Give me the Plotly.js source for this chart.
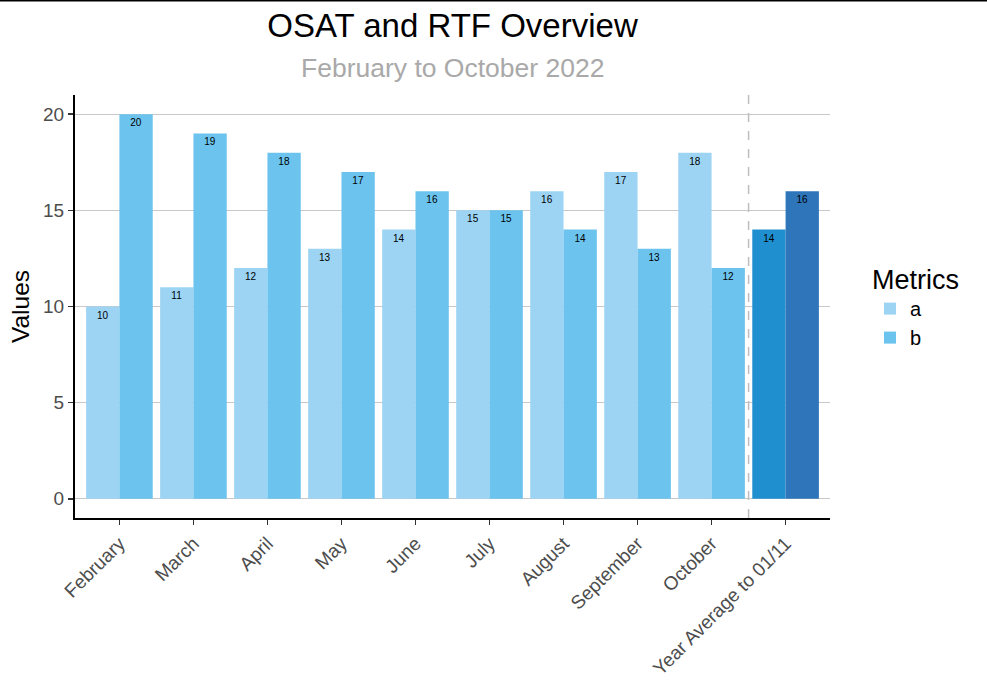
<!DOCTYPE html>
<html>
<head>
<meta charset="utf-8">
<script src="https://cdn.plot.ly/plotly-3.0.1.min.js"></script>
<style>html,body{margin:0;padding:0;background:#fff;}#chart{width:987px;height:696px;}</style>
</head>
<body>
<div id="chart"></div>
<script>
const categories = ["February","March","April","May","June","July","August","September","October","Year Average to 01/11"];
const seriesA = [10,11,12,13,14,15,16,17,18,14];
const seriesB = [20,19,18,17,16,15,14,13,12,16];
const colorsA = ["#9DD4F4","#9DD4F4","#9DD4F4","#9DD4F4","#9DD4F4","#9DD4F4","#9DD4F4","#9DD4F4","#9DD4F4","#1F8FD0"];
const colorsB = ["#6BC3EE","#6BC3EE","#6BC3EE","#6BC3EE","#6BC3EE","#6BC3EE","#6BC3EE","#6BC3EE","#6BC3EE","#2E75BA"];

const W = 987, H = 696;
const M = {l:75, r:157, t:95, b:178};
const pw = W - M.l - M.r, ph = H - M.t - M.b;
const font = "Liberation Sans, Arial, sans-serif";

const common = {
  type: "bar",
  x: categories,
  textposition: "inside",
  insidetextanchor: "end",
  textangle: 0,
  textfont: {family: font, size: 10, color: "#000000"},
  hoverinfo: "x+y+name",
  showlegend: true
};

const traces = [
  Object.assign({}, common, {name: "a", y: seriesA, text: seriesA.map(String), marker: {color: colorsA, line: {width: 0}}}),
  Object.assign({}, common, {name: "b", y: seriesB, text: seriesB.map(String), marker: {color: colorsB, line: {width: 0}}})
];

const layout = {
  width: W, height: H,
  margin: M,
  paper_bgcolor: "#ffffff",
  plot_bgcolor: "#ffffff",
  font: {family: font, color: "#000000"},
  barmode: "group",
  bargap: 0.1,
  bargroupgap: 0,
  uniformtext: {minsize: 10, mode: "show"},
  title: {
    text: "OSAT and RTF Overview",
    font: {family: font, size: 33, color: "#000000"},
    x: 0.5, xref: "paper", xanchor: "center",
    y: 1 - 25/H, yref: "container", yanchor: "middle"
  },
  annotations: [{
    text: "February to October 2022",
    xref: "paper", yref: "paper",
    x: 0.5, y: 1 + (M.t - 68)/ph,
    xanchor: "center", yanchor: "middle",
    showarrow: false,
    font: {family: font, size: 26.5, color: "#A9A9A9"}
  }],
  xaxis: {
    type: "category",
    range: [-0.6, 9.6],
    showgrid: false,
    showline: true, linecolor: "#000000", linewidth: 2,
    ticks: "outside", ticklen: 5, tickwidth: 1.5, tickcolor: "#333333",
    tickangle: -45,
    tickfont: {family: font, size: 19, color: "#4D4D4D"},
    zeroline: false,
    fixedrange: true
  },
  yaxis: {
    range: [-1, 21],
    tickvals: [0,5,10,15,20],
    showgrid: true, gridcolor: "#C8C8C8", gridwidth: 1,
    showline: true, linecolor: "#000000", linewidth: 2,
    ticks: "outside", ticklen: 5, tickwidth: 1.5, tickcolor: "#333333",
    tickfont: {family: font, size: 19, color: "#4D4D4D"},
    zeroline: false,
    title: {text: "Values", font: {family: font, size: 24.5, color: "#000000"}, standoff: 6},
    fixedrange: true
  },
  legend: {
    title: {text: "Metrics", font: {family: font, size: 27, color: "#000000"}},
    font: {family: font, size: 20, color: "#000000"},
    x: (870 - M.l)/pw, xanchor: "left",
    y: (H - M.b - 254)/ph, yanchor: "top",
    tracegroupgap: 0,
    bgcolor: "rgba(0,0,0,0)"
  },
  shapes: [
    {type: "line", xref: "x", yref: "paper", x0: 8.5, x1: 8.5, y0: 0, y1: 1,
     line: {color: "#BEBEBE", width: 1.5, dash: "dash"}},
    {type: "line", xref: "paper", yref: "paper",
     x0: -M.l/pw, x1: (W - M.l)/pw, y0: 1 + (M.t - 0.5)/ph, y1: 1 + (M.t - 0.5)/ph,
     line: {color: "#000000", width: 2}}
  ]
};

Plotly.newPlot("chart", traces, layout, {displayModeBar: false, staticPlot: true});
</script>
</body>
</html>
